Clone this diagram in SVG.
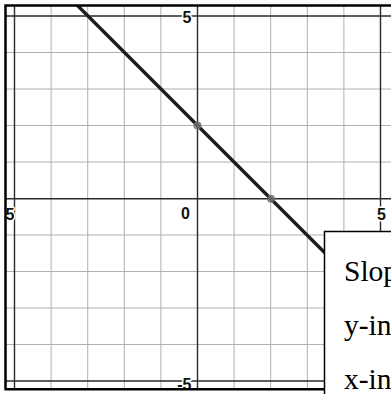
<svg xmlns="http://www.w3.org/2000/svg" width="391" height="394" viewBox="0 0 391 394">
  <style>
    .grid { stroke: #b0b0b0; stroke-width: 1; fill: none; }
    .axis { stroke: #2a2a2a; stroke-width: 1.4; fill: none; }
    .border { stroke: #000; stroke-width: 2.5; fill: none; }
    .lbl { font-family: "Liberation Sans", Arial, sans-serif; font-size: 16px; font-weight: bold; fill: #111; stroke: #fff; stroke-width: 3px; paint-order: stroke; stroke-linejoin: round; }
    .info { font-family: "Liberation Serif", "Times New Roman", serif; font-size: 29.5px; fill: #000; }
    .pt { fill: #6e6e6e; opacity: 0.85; }
  </style>
  <defs>
    <clipPath id="plot"><rect x="5" y="5" width="400" height="384"/></clipPath>
  </defs>
  <rect x="0" y="0" width="391" height="394" fill="#fff"/>
  <g id="plot-area" clip-path="url(#plot)">
    <g id="grid">
      <path class="grid" d="M51.1 5V389M87.7 5V389M124.3 5V389M160.9 5V389M234.1 5V389M270.7 5V389M307.3 5V389M343.9 5V389"/>
      <path class="grid" d="M5 52.5H391M5 89H391M5 125.5H391M5 162H391M5 235H391M5 271.5H391M5 308H391M5 344.5H391"/>
    </g>
    <g id="axes">
      <path class="axis" d="M14.5 5V389M197.5 5V389M380.5 5V389"/>
      <path class="axis" d="M5 16H391M5 198.8H391M5 381H391"/>
    </g>
    <g id="labels">
      <text class="lbl" x="191.5" y="22.5" text-anchor="end">5</text>
      <text class="lbl" x="14.5" y="219.5" text-anchor="end">-5</text>
      <text class="lbl" x="190" y="218.5" text-anchor="end">0</text>
      <text class="lbl" x="381.5" y="219.5" text-anchor="middle">5</text>
      <text class="lbl" x="191.5" y="389.5" text-anchor="end">-5</text>
    </g>
    <g id="connectors">
      <line id="graph-line" x1="76.5" y1="4.5" x2="345" y2="273" stroke="#1c1c1c" stroke-width="3.4" stroke-linecap="butt"/>
    </g>
    <g id="points">
      <circle class="pt" cx="197.5" cy="125.5" r="4"/>
      <circle class="pt" cx="271" cy="198.8" r="4"/>
    </g>
  </g>
  <g id="frame">
    <path class="border" d="M5.5 4.5V389.5M4.5 5.5H391M4.5 389.3H391"/>
  </g>
  <g id="info-box">
    <rect x="324.5" y="231.5" width="80" height="180" fill="#fff" stroke="#000" stroke-width="1.5"/>
    <text class="info" x="344" y="281">Slop</text>
    <text class="info" x="344" y="334.5">y-in</text>
    <text class="info" x="344" y="388.5">x-in</text>
  </g>
</svg>
